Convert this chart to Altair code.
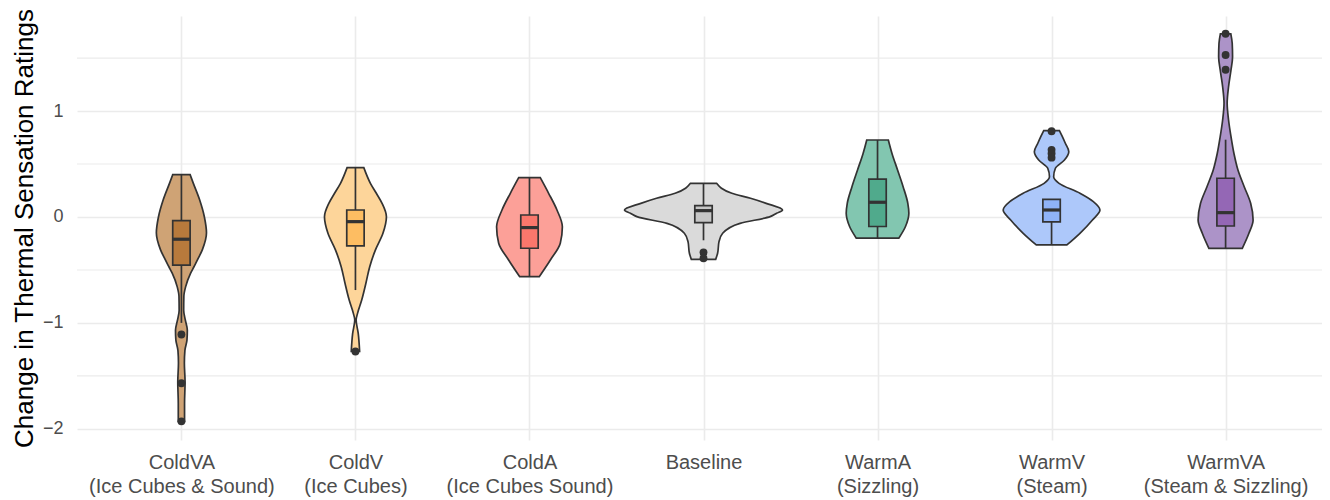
import altair as alt
import pandas as pd

CATEGORIES = ["ColdVA", "ColdV", "ColdA", "Baseline", "WarmA", "WarmV", "WarmVA"]
LABEL_TOP = ["ColdVA", "ColdV", "ColdA", "Baseline", "WarmA", "WarmV", "WarmVA"]
LABEL_BOTTOM = ["(Ice Cubes & Sound)", "(Ice Cubes)", "(Ice Cubes Sound)", "",
                " (Sizzling)", " (Steam)", "(Steam & Sizzling)"]
VIOLIN_FILL = ["#CFA375", "#FDD59A", "#FCA098", "#DADADA", "#82C6B0", "#ADC8FA", "#AC93C8"]
BOX_FILL = ["#B87A3C", "#FDBD62", "#FA776C", "#C6C6C6", "#50AA8C", "#8FB3F8", "#9467B5"]

# violin outlines: value levels and half-width (density, category units)
COLDVA_V = [0.40, 0.32, 0.16, 0.00, -0.15, -0.31, -0.38, -0.47, -0.53, -0.66, -0.75, -0.88,
            -0.97, -1.07, -1.16, -1.26, -1.38, -1.56, -1.76, -1.93]
COLDVA_W = [0.050, 0.068, 0.105, 0.132, 0.144, 0.120, 0.100, 0.072, 0.053, 0.024, 0.014, 0.013,
            0.022, 0.034, 0.032, 0.020, 0.017, 0.021, 0.018, 0.018]
COLDV_V = [0.466, 0.318, 0.224, 0.129, 0.003, -0.154, -0.31, -0.469, -0.626, -0.784, -0.91,
           -0.973, -1.10, -1.27]
COLDV_W = [0.048, 0.086, 0.120, 0.153, 0.178, 0.158, 0.115, 0.082, 0.060, 0.036, 0.012,
           0.004, 0.016, 0.024]
COLDA_V = [0.371, 0.224, 0.066, -0.092, -0.248, -0.406, -0.564]
COLDA_W = [0.062, 0.110, 0.158, 0.189, 0.177, 0.120, 0.056]
BASE_V = [0.318, 0.224, 0.177, 0.129, 0.066, 0.035, 0.003, -0.06, -0.154, -0.233, -0.343, -0.40]
BASE_W = [0.075, 0.163, 0.270, 0.360, 0.454, 0.420, 0.383, 0.210, 0.110, 0.089, 0.081, 0.070]
WARMA_V = [0.727, 0.60, 0.444, 0.286, 0.129, 0.035, -0.092, -0.20]
WARMA_W = [0.062, 0.083, 0.115, 0.147, 0.174, 0.180, 0.160, 0.122]
WARMV_V = [0.815, 0.758, 0.696, 0.617, 0.538, 0.46, 0.38, 0.318, 0.224, 0.145, 0.066, -0.028,
           -0.154, -0.264]
WARMV_W = [0.045, 0.062, 0.079, 0.099, 0.074, 0.022, 0.012, 0.043, 0.163, 0.240, 0.278, 0.235,
           0.163, 0.088]
WARMVA_V = [1.73, 1.64, 1.514, 1.388, 1.23, 1.074, 0.916, 0.759, 0.60, 0.444, 0.286, 0.129,
            -0.028, -0.154, -0.296]
WARMVA_W = [0.030, 0.038, 0.040, 0.031, 0.017, 0.009, 0.017, 0.031, 0.048, 0.071, 0.107, 0.144,
            0.158, 0.134, 0.096]

# box statistics
Q1 = [-0.454, -0.273, -0.295, -0.054, -0.09, -0.047, -0.085]
MEDIAN = [-0.21, -0.044, -0.10, 0.06, 0.139, 0.066, 0.041]
Q3 = [-0.035, 0.066, 0.019, 0.107, 0.357, 0.167, 0.366]
WHISKER_LO = [-1.0, -0.69, -0.564, -0.22, -0.20, -0.264, -0.296]
WHISKER_HI = [0.40, 0.466, 0.371, 0.318, 0.727, 0.167, 0.73]
OUTLIER_CAT = ["ColdVA", "ColdVA", "ColdVA", "ColdV", "Baseline", "Baseline",
               "WarmV", "WarmV", "WarmV", "WarmV", "WarmVA", "WarmVA", "WarmVA"]
OUTLIER_VAL = [-1.11, -1.57, -1.93, -1.27, -0.335, -0.39,
               0.81, 0.634, 0.60, 0.56, 1.73, 1.53, 1.39]

Y_TICKS = [-2, -1, 0, 1]
Y_MINOR = [-1.5, -0.5, 0.5, 1.5]
PLOT_W = 1245
PLOT_H = 424
X_DOMAIN = [0.4, 0.4 + PLOT_W / 174.03]
Y_DOMAIN = [-2.106, 1.898]
BOX_HALF = 0.05

profiles = [(COLDVA_V, COLDVA_W), (COLDV_V, COLDV_W), (COLDA_V, COLDA_W), (BASE_V, BASE_W),
            (WARMA_V, WARMA_W), (WARMV_V, WARMV_W), (WARMVA_V, WARMVA_W)]
vrows = []
for i, (vs, ws) in enumerate(profiles):
    for v, w in sorted(zip(vs, ws)):
        vrows.append({"cat": CATEGORIES[i], "pos": i + 1, "v": v, "w": w})
violin_df = pd.DataFrame(vrows)

box_df = pd.DataFrame({"cat": CATEGORIES, "pos": list(range(1, 8)), "q1": Q1, "med": MEDIAN,
                       "q3": Q3, "wlo": WHISKER_LO, "whi": WHISKER_HI})
out_df = pd.DataFrame({"cat": OUTLIER_CAT, "v": OUTLIER_VAL})
out_df["pos"] = out_df["cat"].map({c: i + 1 for i, c in enumerate(CATEGORIES)})
minor_df = pd.DataFrame({"y": Y_MINOR, "x0": X_DOMAIN[0], "x1": X_DOMAIN[1]})

label_arr = "[" + ",".join("['%s','%s']" % (a, b) for a, b in zip(LABEL_TOP, LABEL_BOTTOM)) + "]"

FONT = "Liberation Sans"
OUTLINE = "#333333"
LW = 1.7
xscale = alt.Scale(domain=X_DOMAIN, nice=False, zero=False)
yscale = alt.Scale(domain=Y_DOMAIN, nice=False, zero=False)
xaxis = alt.Axis(values=list(range(1, 8)), labelExpr=label_arr + "[datum.value - 1]",
                 title=None, grid=True, labelFontSize=20, labelLineHeight=24,
                 labelPadding=12, labelBaseline="top", labelFlush=False, labelLimit=500)
yaxis = alt.Axis(values=Y_TICKS, title="Change in Thermal Sensation Ratings", grid=True,
                 labelFontSize=18, labelPadding=14, titleFontSize=26, titleFontWeight="normal",
                 titleColor="#000000", titleFont=FONT, titleAngle=270, titleX=-45,
                 titleY=PLOT_H / 2, titleAlign="center", titleBaseline="alphabetic")

colors_v = alt.Scale(domain=CATEGORIES, range=VIOLIN_FILL)
colors_b = alt.Scale(domain=CATEGORIES, range=BOX_FILL)

minor = alt.Chart(minor_df).mark_rule(color="#EBEBEB", strokeWidth=1.1).encode(
    y=alt.Y("y:Q", scale=yscale, axis=yaxis),
    x=alt.X("x0:Q", scale=xscale, axis=xaxis), x2="x1:Q")

violin = alt.Chart(violin_df).transform_calculate(
    lo="datum.pos - datum.w", hi="datum.pos + datum.w"
).mark_area(orient="horizontal", interpolate="monotone", stroke=OUTLINE,
            strokeWidth=LW, opacity=1).encode(
    y=alt.Y("v:Q", scale=yscale, axis=yaxis),
    x=alt.X("lo:Q", scale=xscale, axis=xaxis), x2="hi:Q",
    fill=alt.Fill("cat:N", scale=colors_v, legend=None))

whisk_hi = alt.Chart(box_df).mark_rule(color=OUTLINE, strokeWidth=LW).encode(
    x=alt.X("pos:Q", scale=xscale, axis=xaxis), y=alt.Y("q3:Q", scale=yscale, axis=yaxis),
    y2="whi:Q")
whisk_lo = alt.Chart(box_df).mark_rule(color=OUTLINE, strokeWidth=LW).encode(
    x=alt.X("pos:Q", scale=xscale, axis=xaxis), y=alt.Y("wlo:Q", scale=yscale, axis=yaxis),
    y2="q1:Q")

box = alt.Chart(box_df).transform_calculate(
    b0="datum.pos - %f" % BOX_HALF, b1="datum.pos + %f" % BOX_HALF
).mark_rect(stroke=OUTLINE, strokeWidth=LW, opacity=1).encode(
    x=alt.X("b0:Q", scale=xscale, axis=xaxis), x2="b1:Q",
    y=alt.Y("q1:Q", scale=yscale, axis=yaxis), y2="q3:Q",
    fill=alt.Fill("cat:N", scale=colors_b, legend=None))

median = alt.Chart(box_df).transform_calculate(
    b0="datum.pos - %f" % BOX_HALF, b1="datum.pos + %f" % BOX_HALF
).mark_rule(color=OUTLINE, strokeWidth=3.2).encode(
    x=alt.X("b0:Q", scale=xscale, axis=xaxis), x2="b1:Q",
    y=alt.Y("med:Q", scale=yscale, axis=yaxis))

points = alt.Chart(out_df).mark_circle(color=OUTLINE, size=62, opacity=1).encode(
    x=alt.X("pos:Q", scale=xscale, axis=xaxis), y=alt.Y("v:Q", scale=yscale, axis=yaxis))

chart = alt.layer(minor, violin, whisk_hi, whisk_lo, box, median, points).resolve_scale(
    fill="independent"
).properties(
    width=PLOT_W, height=PLOT_H,
    autosize=alt.AutoSizeParams(type="none"),
    padding={"left": 69, "top": 8, "right": 0, "bottom": 60}
).configure_view(stroke=None).configure_axis(
    domain=False, ticks=False, gridColor="#EBEBEB", gridWidth=1.6,
    labelColor="#4D4D4D", labelFont=FONT, titleFont=FONT
)

chart.save("out.html", embed_options={"renderer": "svg", "actions": False})
